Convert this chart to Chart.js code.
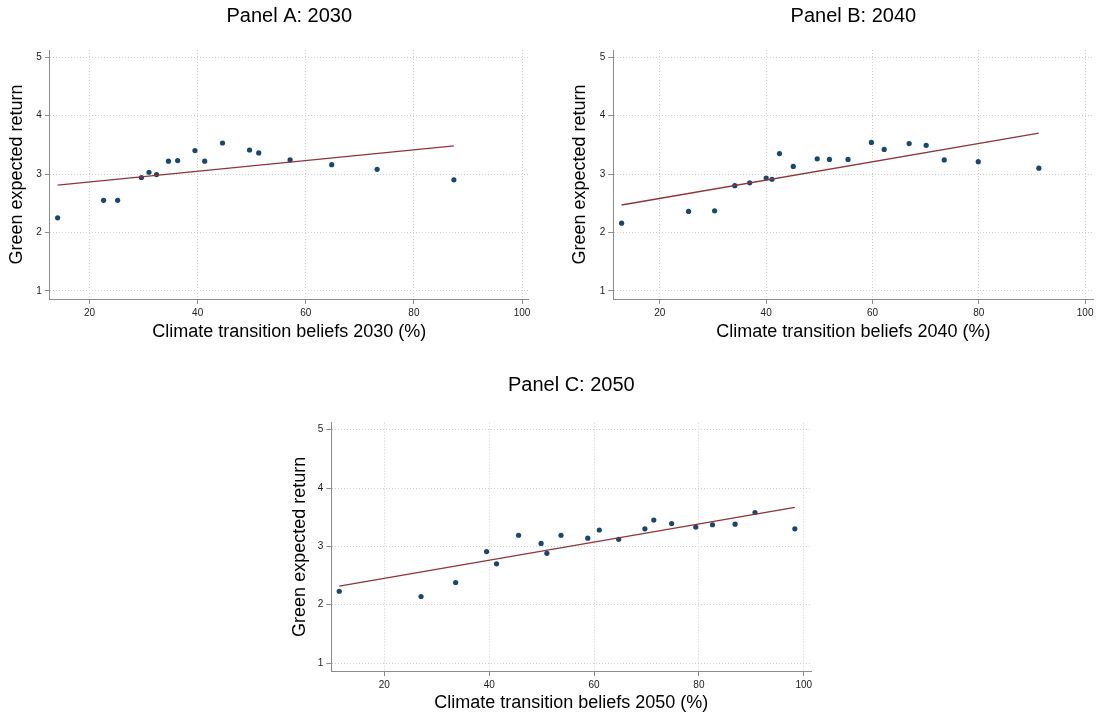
<!DOCTYPE html>
<html>
<head>
<meta charset="utf-8">
<script src="https://cdn.jsdelivr.net/npm/chart.js@4.4.1/dist/chart.umd.min.js"></script>
<style>
  html, body { margin: 0; padding: 0; background: #fff; }
  body { position: relative; width: 1098px; height: 717px; overflow: hidden; }
  canvas { position: absolute; }
</style>
</head>
<body>
<canvas id="panelA" width="549" height="352" style="left:0px;top:0px"></canvas>
<canvas id="panelB" width="549" height="352" style="left:549px;top:0px"></canvas>
<canvas id="panelC" width="545" height="357" style="left:280px;top:360px"></canvas>
<script>
// Panel A: 2030
const beliefs2030 = [14.1, 22.6, 25.2, 29.6, 31.0, 32.4, 34.6, 36.3, 39.5, 41.3, 44.6, 49.6, 51.3, 57.1, 64.8, 73.2, 87.4];
const returns2030 = [2.25, 2.55, 2.55, 2.94, 3.03, 2.99, 3.22, 3.23, 3.40, 3.22, 3.53, 3.41, 3.36, 3.24, 3.16, 3.08, 2.90];
const fit2030X = [14.1, 87.4];
const fit2030Y = [2.81, 3.48];

// Panel B: 2040
const beliefs2040 = [12.8, 25.4, 30.3, 34.1, 36.9, 40.0, 41.1, 42.5, 45.1, 49.6, 51.9, 55.4, 59.8, 62.2, 66.9, 70.1, 73.5, 79.9, 91.3];
const returns2040 = [2.16, 2.36, 2.37, 2.80, 2.85, 2.93, 2.91, 3.35, 3.13, 3.26, 3.25, 3.25, 3.54, 3.42, 3.52, 3.49, 3.24, 3.21, 3.10];
const fit2040X = [12.8, 91.3];
const fit2040Y = [2.47, 3.70];

// Panel C: 2050
const beliefs2050 = [11.4, 27.0, 33.6, 39.5, 41.4, 45.6, 49.9, 51.0, 53.7, 58.8, 61.0, 64.7, 69.7, 71.4, 74.8, 79.4, 82.6, 86.9, 90.7, 98.3];
const returns2050 = [2.23, 2.14, 2.38, 2.91, 2.70, 3.19, 3.05, 2.88, 3.19, 3.14, 3.28, 3.12, 3.30, 3.45, 3.39, 3.33, 3.37, 3.38, 3.58, 3.30];
const fit2050X = [11.4, 98.3];
const fit2050Y = [2.32, 3.67];

const xTickValues = [20, 40, 60, 80, 100];
const yTickValues = [1, 2, 3, 4, 5];

Chart.defaults.font.family = "'Liberation Sans', Arial, sans-serif";
Chart.defaults.color = '#222';
Chart.defaults.animation = false;

const markerColor = '#1a476f';
const fitColor = '#90353b';
const axisColor = '#8c8c8c';
const gridColor = '#cfcfcf';

function toPoints(xs, ys) {
    return xs.map((x, i) => ({ x: x, y: ys[i] }));
}

function makePanel(id, p) {
    const canvas = document.getElementById(id);
    const h = canvas.height;
    return new Chart(canvas, {
        type: 'scatter',
        data: {
            datasets: [{
                label: 'Linear fit',
                data: toPoints(p.fitX, p.fitY),
                showLine: true,
                borderColor: fitColor,
                borderWidth: 1.3,
                pointRadius: 0,
                order: 0
            }, {
                label: 'Green expected return',
                data: toPoints(p.xs, p.ys),
                backgroundColor: markerColor,
                borderWidth: 0,
                pointRadius: 2.6,
                order: 1
            }]
        },
        options: {
            responsive: false,
            devicePixelRatio: 1,
            layout: { padding: { left: 0, right: p.padRight, top: 0, bottom: 0 } },
            plugins: {
                legend: { display: false },
                tooltip: { enabled: false },
                title: {
                    display: true,
                    text: p.title,
                    fullSize: false,
                    color: '#000',
                    font: { size: 20, weight: 'normal' },
                    padding: { top: p.titleTop, bottom: p.titleBottom }
                }
            },
            scales: {
                x: {
                    type: 'linear',
                    min: p.xMin,
                    max: p.xMax,
                    afterBuildTicks: s => { s.ticks = xTickValues.map(v => ({ value: v })); },
                    afterFit: s => { s.height = h - p.plotBottom; },
                    ticks: { font: { size: 10 }, padding: 3, color: '#222' },
                    grid: { color: gridColor, tickColor: axisColor, tickLength: 5, tickBorderDash: [] },
                    border: { color: axisColor, width: 1, dash: [1, 2] },
                    title: {
                        display: true,
                        text: p.xTitle,
                        color: '#000',
                        font: { size: 18 },
                        padding: { top: 0, bottom: p.xTitleBottom }
                    }
                },
                y: {
                    type: 'linear',
                    min: 0.863,
                    max: 5.12,
                    afterBuildTicks: s => { s.ticks = yTickValues.map(v => ({ value: v })); },
                    afterFit: s => { s.width = p.plotLeft; },
                    ticks: { font: { size: 10 }, padding: 3, color: '#222' },
                    grid: { color: gridColor, tickColor: axisColor, tickLength: 5, tickBorderDash: [] },
                    border: { color: axisColor, width: 1, dash: [1, 2] },
                    title: {
                        display: true,
                        text: 'Green expected return',
                        color: '#000',
                        font: { size: 18 },
                        padding: { top: p.yTitleTop, bottom: 0 }
                    }
                }
            }
        }
    });
}

makePanel('panelA', {
    title: 'Panel A: 2030', xTitle: 'Climate transition beliefs 2030 (%)',
    xs: beliefs2030, ys: returns2030, fitX: fit2030X, fitY: fit2030Y,
    xMin: 12.67, xMax: 101.22,
    plotLeft: 49.9, padRight: 20.4, plotBottom: 299,
    titleTop: 4.4, titleBottom: 21.6, xTitleBottom: 9.4, yTitleTop: 6.2
});

makePanel('panelB', {
    title: 'Panel B: 2040', xTitle: 'Climate transition beliefs 2040 (%)',
    xs: beliefs2040, ys: returns2040, fitX: fit2040X, fitY: fit2040Y,
    xMin: 11.22, xMax: 101.6,
    plotLeft: 64.2, padRight: 4.4, plotBottom: 299,
    titleTop: 4.4, titleBottom: 21.6, xTitleBottom: 9.4, yTitleTop: 20.6
});

makePanel('panelC', {
    title: 'Panel C: 2050', xTitle: 'Climate transition beliefs 2050 (%)',
    xs: beliefs2050, ys: returns2050, fitX: fit2050X, fitY: fit2050Y,
    xMin: 9.88, xMax: 101.44,
    plotLeft: 51.3, padRight: 13.7, plotBottom: 311,
    titleTop: 13.8, titleBottom: 24.9, xTitleBottom: 3.4, yTitleTop: 9.0
});
</script>
</body>
</html>
